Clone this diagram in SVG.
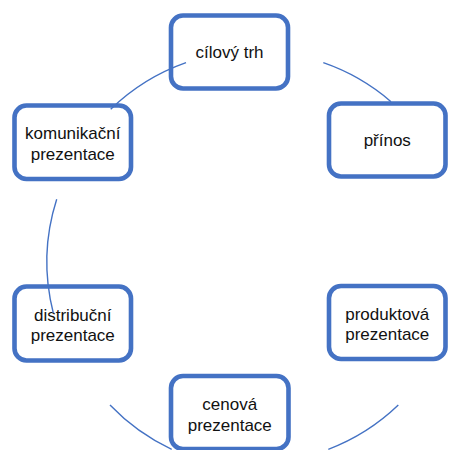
<svg xmlns="http://www.w3.org/2000/svg" width="452" height="450" viewBox="0 0 452 450">
<style>
.box{fill:#ffffff;stroke:#4472C4;stroke-width:4.6}
.lbl{font-family:"Liberation Sans",Arial,sans-serif;font-size:17px;fill:#111111;text-anchor:middle}
.arc{fill:none;stroke:#4472C4;stroke-width:1.4}
</style>
<rect width="452" height="450" fill="#ffffff"/>
<g id="node-cilovy-trh">
<rect class="box" x="171" y="15.5" width="117" height="73" rx="12"/>
<text class="lbl" x="229.5" y="57.5">cílový trh</text>
</g>
<g id="node-prinos">
<rect class="box" x="329" y="103.5" width="116.5" height="73" rx="12"/>
<text class="lbl" x="387.25" y="146">přínos</text>
</g>
<g id="node-produktova">
<rect class="box" x="329" y="286" width="116.5" height="73" rx="12"/>
<text class="lbl" x="387.25" y="320">produktová</text>
<text class="lbl" x="387.25" y="340">prezentace</text>
</g>
<g id="node-cenova">
<rect class="box" x="171" y="376" width="117.5" height="73" rx="12"/>
<text class="lbl" x="229.75" y="410">cenová</text>
<text class="lbl" x="229.75" y="430.5">prezentace</text>
</g>
<g id="node-distribucni">
<rect class="box" x="14.5" y="286.5" width="116.5" height="74" rx="12"/>
<text class="lbl" x="72.75" y="320.5">distribuční</text>
<text class="lbl" x="72.75" y="340.5">prezentace</text>
</g>
<g id="node-komunikacni">
<rect class="box" x="14.5" y="105.5" width="116.5" height="73.5" rx="12"/>
<text class="lbl" x="72.75" y="139">komunikační</text>
<text class="lbl" x="72.75" y="159.5">prezentace</text>
</g>
<g id="connectors">
<path class="arc" d="M186,62.7 A206.5,206.5 0 0 0 110.7,109.3"/>
<path class="arc" d="M323.3,62.7 A206.5,206.5 0 0 1 391,101.7"/>
<path class="arc" d="M56.7,199.3 A206.5,206.5 0 0 0 53.3,313"/>
<path class="arc" d="M110,405 A206.5,206.5 0 0 0 171.7,449.3"/>
<path class="arc" d="M398.3,405 A206.5,206.5 0 0 1 328.3,449.3"/>
</g>
</svg>
